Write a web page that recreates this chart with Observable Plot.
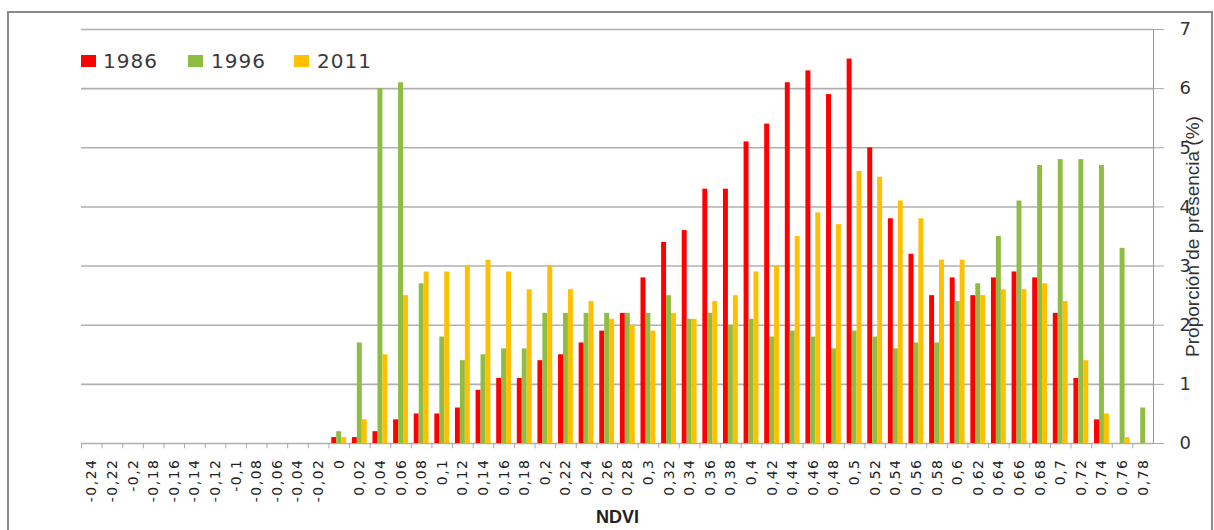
<!DOCTYPE html>
<html><head><meta charset="utf-8">
<script src="https://cdn.jsdelivr.net/npm/d3@7"></script>
<script src="https://cdn.jsdelivr.net/npm/@observablehq/plot@0.6"></script>
<style>
html,body{margin:0;padding:0;background:#fff;}
#wrap{position:relative;width:1214px;height:530px;overflow:hidden;}
#border{position:absolute;left:7px;top:11px;width:1206px;height:560px;border:2px solid #8a8a8a;box-sizing:border-box;}
#chart{position:absolute;left:0;top:0;}
.lg{position:absolute;font-family:"DejaVu Sans";font-size:20px;color:#3a3a3a;letter-spacing:1px;line-height:20px;}
.sw{position:absolute;width:15px;height:12px;}
#chart svg{overflow:visible;}
g[aria-label="x-axis tick label"] text{letter-spacing:1.5px;font-size:14px;fill:#222;}
g[aria-label="x-axis label"] text{font-family:"Liberation Sans";font-weight:bold;font-size:18px;fill:#222;}
g[aria-label="y-axis label"] text{font-family:"Liberation Sans";font-size:19px;fill:#333;}
g[aria-label="y-axis tick label"] text{font-size:18px;fill:#333;}
</style>
</head><body>
<div id="wrap">
  <div id="border"></div>
  <div id="chart"></div>
  <div id="legend"></div>
</div>
<script>
const ndviLabels = ["-0,24","-0,22","-0,2","-0,18","-0,16","-0,14","-0,12","-0,1","-0,08","-0,06","-0,04","-0,02","0","0,02","0,04","0,06","0,08","0,1","0,12","0,14","0,16","0,18","0,2","0,22","0,24","0,26","0,28","0,3","0,32","0,34","0,36","0,38","0,4","0,42","0,44","0,46","0,48","0,5","0,52","0,54","0,56","0,58","0,6","0,62","0,64","0,66","0,68","0,7","0,72","0,74","0,76","0,78"];
const years = ["1986","1996","2011"];
const v1986 = [0,0,0,0,0,0,0,0,0,0,0,0, 0.1,0.1,0.2,0.4,0.5,0.5,0.6,0.9,1.1,1.1,1.4,1.5,1.7,1.9,2.2,2.8,3.4,3.6,4.3,4.3,5.1,5.4,6.1,6.3,5.9,6.5,5.0,3.8,3.2,2.5,2.8,2.5,2.8,2.9,2.8,2.2,1.1,0.4,0,0];
const v1996 = [0,0,0,0,0,0,0,0,0,0,0,0, 0.2,1.7,6.0,6.1,2.7,1.8,1.4,1.5,1.6,1.6,2.2,2.2,2.2,2.2,2.2,2.2,2.5,2.1,2.2,2.0,2.1,1.8,1.9,1.8,1.6,1.9,1.8,1.6,1.7,1.7,2.4,2.7,3.5,4.1,4.7,4.8,4.8,4.7,3.3,0.6];
const v2011 = [0,0,0,0,0,0,0,0,0,0,0,0, 0.1,0.4,1.5,2.5,2.9,2.9,3.0,3.1,2.9,2.6,3.0,2.6,2.4,2.1,2.0,1.9,2.2,2.1,2.4,2.5,2.9,3.0,3.5,3.9,3.7,4.6,4.5,4.1,3.8,3.1,3.1,2.5,2.6,2.6,2.7,2.4,1.4,0.5,0.1,0];
const yTicks = [0,1,2,3,4,5,6,7];
const colors = ["#ff0000","#8fbd44","#ffc000"];

const W = 1214, H = 530, mL = 81, mR = 61, mT = 29, mB = 87;
const step = (W - mL - mR) / ndviLabels.length;
const bw = step * 0.24;

const series = [v1986, v1996, v2011];
const data = [];
series.forEach((vals, s) => vals.forEach((v, i) => data.push({ndvi: ndviLabels[i], year: years[s], value: v})));

const barMarks = years.map((yr, s) => Plot.barY(data.filter(d => d.year === yr), {
  x: "ndvi", y: "value", fill: colors[s], dx: (s - 1) * bw
}));

const chart = Plot.plot({
  width: W, height: H,
  marginLeft: mL, marginRight: mR, marginTop: mT, marginBottom: mB,
  style: {fontFamily: "DejaVu Sans", fontSize: "13px", color: "#333", background: "transparent"},
  x: {domain: ndviLabels, paddingInner: 0.76, paddingOuter: 0.38},
  y: {domain: [0, 7]},
  marks: [
    Plot.gridY(yTicks, {stroke: "#b0b0b0", strokeOpacity: 1, strokeWidth: 1.6}),
    Plot.ruleX(ndviLabels, {x: d => d, y1: 0, y2: -0.09, dx: -step / 2, stroke: "#aaa"}),
    ...barMarks,
    Plot.frame({anchor: "right", stroke: "#999"}),
    Plot.axisX({tickSize: 0, tickPadding: 15, tickRotate: -90, label: "NDVI", labelAnchor: "center", labelArrow: "none", labelOffset: 79}),
    Plot.axisY({anchor: "right", ticks: yTicks, tickFormat: d => String(d), tickSize: 10, tickPadding: 16, stroke: "#aaa", label: "Proporción de presencia (%)", labelAnchor: "center", labelArrow: "none", labelOffset: 45})
  ]
});
document.getElementById("chart").appendChild(chart);

const legend = document.getElementById("legend");
const swX = [81, 188, 294], txX = [103, 211, 317];
years.forEach((yr, s) => {
  const sw = document.createElement("div");
  sw.className = "sw"; sw.style.left = swX[s] + "px"; sw.style.top = "55px"; sw.style.background = colors[s];
  legend.appendChild(sw);
  const t = document.createElement("div");
  t.className = "lg"; t.style.left = txX[s] + "px"; t.style.top = "51px"; t.textContent = yr;
  legend.appendChild(t);
});
</script>
</body></html>
